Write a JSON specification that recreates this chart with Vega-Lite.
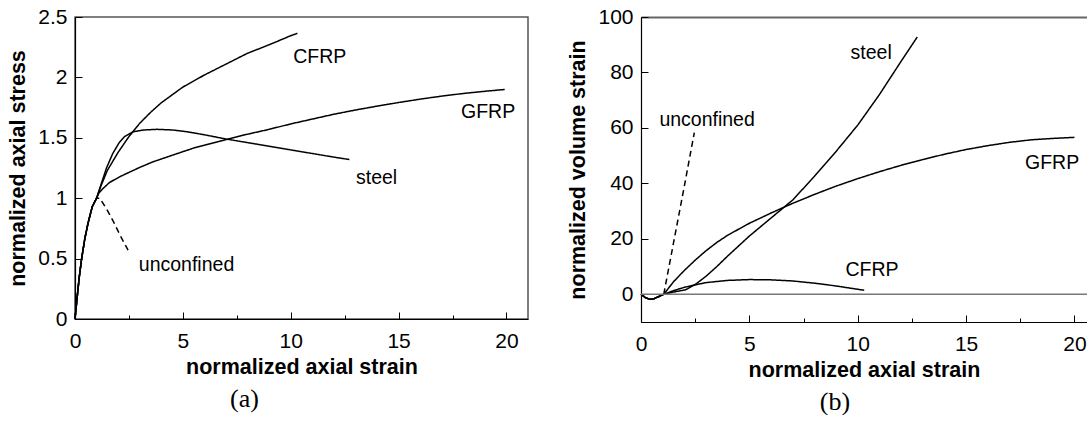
{
  "$schema": "https://vega.github.io/schema/vega-lite/v6.json",
  "padding": {"left": 7, "top": 5, "right": 0, "bottom": 0},
  "spacing": 38,
  "config": {
    "font": "Liberation Sans",
    "axis": {"labelFont": "Liberation Sans", "labelFontSize": 21, "labelColor": "#000", "titleFont": "Liberation Sans", "titleFontSize": 21.5, "titleFontWeight": "bold", "titleColor": "#000", "domainColor": "#000", "domainWidth": 1.2, "tickColor": "#000", "tickWidth": 1, "grid": false, "labelFlush": false, "labelOverlap": false},
    "view": {"stroke": "#555", "strokeWidth": 1.5}
  },
  "datasets": {
    "a": [
      {"material": "unconfined", "strain": 0, "stress": 0}, {"material": "unconfined", "strain": 0.1, "stress": 0.18}, {"material": "unconfined", "strain": 0.2, "stress": 0.35}, {"material": "unconfined", "strain": 0.3, "stress": 0.49}, {"material": "unconfined", "strain": 0.45, "stress": 0.66}, {"material": "unconfined", "strain": 0.6, "stress": 0.79}, {"material": "unconfined", "strain": 0.8, "stress": 0.93}, {"material": "unconfined", "strain": 1.0, "stress": 1.0},
      {"material": "unconfined", "strain": 1.15, "stress": 1.0}, {"material": "unconfined", "strain": 1.5, "stress": 0.9}, {"material": "unconfined", "strain": 1.8, "stress": 0.8}, {"material": "unconfined", "strain": 2.1, "stress": 0.69}, {"material": "unconfined", "strain": 2.46, "stress": 0.57},
      {"material": "steel", "strain": 0, "stress": 0}, {"material": "steel", "strain": 0.1, "stress": 0.18}, {"material": "steel", "strain": 0.2, "stress": 0.35}, {"material": "steel", "strain": 0.3, "stress": 0.49}, {"material": "steel", "strain": 0.45, "stress": 0.66}, {"material": "steel", "strain": 0.6, "stress": 0.79}, {"material": "steel", "strain": 0.8, "stress": 0.93}, {"material": "steel", "strain": 1.0, "stress": 1.0},
      {"material": "steel", "strain": 1.2, "stress": 1.11}, {"material": "steel", "strain": 1.46, "stress": 1.25}, {"material": "steel", "strain": 1.75, "stress": 1.37}, {"material": "steel", "strain": 2.05, "stress": 1.46}, {"material": "steel", "strain": 2.3, "stress": 1.51}, {"material": "steel", "strain": 2.7, "stress": 1.55}, {"material": "steel", "strain": 3.2, "stress": 1.565}, {"material": "steel", "strain": 3.8, "stress": 1.57}, {"material": "steel", "strain": 4.5, "stress": 1.565}, {"material": "steel", "strain": 5.2, "stress": 1.55}, {"material": "steel", "strain": 6, "stress": 1.525}, {"material": "steel", "strain": 7, "stress": 1.49}, {"material": "steel", "strain": 8, "stress": 1.46}, {"material": "steel", "strain": 9, "stress": 1.43}, {"material": "steel", "strain": 10, "stress": 1.4}, {"material": "steel", "strain": 11, "stress": 1.37}, {"material": "steel", "strain": 12, "stress": 1.34}, {"material": "steel", "strain": 12.72, "stress": 1.32},
      {"material": "CFRP", "strain": 0, "stress": 0}, {"material": "CFRP", "strain": 0.1, "stress": 0.18}, {"material": "CFRP", "strain": 0.2, "stress": 0.35}, {"material": "CFRP", "strain": 0.3, "stress": 0.49}, {"material": "CFRP", "strain": 0.45, "stress": 0.66}, {"material": "CFRP", "strain": 0.6, "stress": 0.79}, {"material": "CFRP", "strain": 0.8, "stress": 0.93}, {"material": "CFRP", "strain": 1.0, "stress": 1.0},
      {"material": "CFRP", "strain": 1.2, "stress": 1.1}, {"material": "CFRP", "strain": 1.5, "stress": 1.23}, {"material": "CFRP", "strain": 2, "stress": 1.38}, {"material": "CFRP", "strain": 2.5, "stress": 1.51}, {"material": "CFRP", "strain": 3, "stress": 1.62}, {"material": "CFRP", "strain": 3.5, "stress": 1.71}, {"material": "CFRP", "strain": 4, "stress": 1.79}, {"material": "CFRP", "strain": 5, "stress": 1.92}, {"material": "CFRP", "strain": 6, "stress": 2.02}, {"material": "CFRP", "strain": 7, "stress": 2.11}, {"material": "CFRP", "strain": 8, "stress": 2.2}, {"material": "CFRP", "strain": 9, "stress": 2.27}, {"material": "CFRP", "strain": 10, "stress": 2.345}, {"material": "CFRP", "strain": 10.31, "stress": 2.365},
      {"material": "GFRP", "strain": 0, "stress": 0}, {"material": "GFRP", "strain": 0.1, "stress": 0.18}, {"material": "GFRP", "strain": 0.2, "stress": 0.35}, {"material": "GFRP", "strain": 0.3, "stress": 0.49}, {"material": "GFRP", "strain": 0.45, "stress": 0.66}, {"material": "GFRP", "strain": 0.6, "stress": 0.79}, {"material": "GFRP", "strain": 0.8, "stress": 0.93}, {"material": "GFRP", "strain": 1.0, "stress": 1.0},
      {"material": "GFRP", "strain": 1.1, "stress": 1.04}, {"material": "GFRP", "strain": 1.3, "stress": 1.08}, {"material": "GFRP", "strain": 1.6, "stress": 1.13}, {"material": "GFRP", "strain": 2.1, "stress": 1.18}, {"material": "GFRP", "strain": 3, "stress": 1.255}, {"material": "GFRP", "strain": 3.6, "stress": 1.3}, {"material": "GFRP", "strain": 4.5, "stress": 1.355}, {"material": "GFRP", "strain": 5.5, "stress": 1.415}, {"material": "GFRP", "strain": 7, "stress": 1.485}, {"material": "GFRP", "strain": 8, "stress": 1.53}, {"material": "GFRP", "strain": 9, "stress": 1.57}, {"material": "GFRP", "strain": 10, "stress": 1.615}, {"material": "GFRP", "strain": 11, "stress": 1.655}, {"material": "GFRP", "strain": 12, "stress": 1.695}, {"material": "GFRP", "strain": 13, "stress": 1.73}, {"material": "GFRP", "strain": 14, "stress": 1.762}, {"material": "GFRP", "strain": 15, "stress": 1.792}, {"material": "GFRP", "strain": 16, "stress": 1.82}, {"material": "GFRP", "strain": 17, "stress": 1.845}, {"material": "GFRP", "strain": 18, "stress": 1.867}, {"material": "GFRP", "strain": 19, "stress": 1.885}, {"material": "GFRP", "strain": 19.92, "stress": 1.9}
    ],
    "la": [
      {"label": "CFRP", "strain": 11.35, "stress": 2.165},
      {"label": "GFRP", "strain": 19.15, "stress": 1.71},
      {"label": "steel", "strain": 13.98, "stress": 1.17},
      {"label": "unconfined", "strain": 5.17, "stress": 0.445}
    ],
    "b": [
      {"material": "unconfined", "strain": 1.05, "volume": 0}, {"material": "unconfined", "strain": 1.5, "volume": 18.5}, {"material": "unconfined", "strain": 2, "volume": 39}, {"material": "unconfined", "strain": 2.46, "volume": 58.3},
      {"material": "steel", "strain": 0, "volume": 0}, {"material": "steel", "strain": 0.2, "volume": -1.2}, {"material": "steel", "strain": 0.4, "volume": -1.8}, {"material": "steel", "strain": 0.6, "volume": -1.6}, {"material": "steel", "strain": 0.8, "volume": -0.9}, {"material": "steel", "strain": 1.05, "volume": 0},
      {"material": "steel", "strain": 1.5, "volume": 0.8}, {"material": "steel", "strain": 2.05, "volume": 1.6}, {"material": "steel", "strain": 2.5, "volume": 3.5}, {"material": "steel", "strain": 3, "volume": 6.5}, {"material": "steel", "strain": 3.5, "volume": 10}, {"material": "steel", "strain": 4, "volume": 13.8}, {"material": "steel", "strain": 5, "volume": 21}, {"material": "steel", "strain": 6, "volume": 27.5}, {"material": "steel", "strain": 7, "volume": 34}, {"material": "steel", "strain": 8, "volume": 42.5}, {"material": "steel", "strain": 9, "volume": 51.5}, {"material": "steel", "strain": 10, "volume": 61}, {"material": "steel", "strain": 11, "volume": 72}, {"material": "steel", "strain": 12, "volume": 84}, {"material": "steel", "strain": 12.75, "volume": 92.8},
      {"material": "GFRP", "strain": 0, "volume": 0}, {"material": "GFRP", "strain": 0.2, "volume": -1.2}, {"material": "GFRP", "strain": 0.4, "volume": -1.8}, {"material": "GFRP", "strain": 0.6, "volume": -1.6}, {"material": "GFRP", "strain": 0.8, "volume": -0.9}, {"material": "GFRP", "strain": 1.05, "volume": 0},
      {"material": "GFRP", "strain": 1.5, "volume": 4.5}, {"material": "GFRP", "strain": 2, "volume": 8.6}, {"material": "GFRP", "strain": 2.5, "volume": 12.3}, {"material": "GFRP", "strain": 3, "volume": 15.7}, {"material": "GFRP", "strain": 3.5, "volume": 18.7}, {"material": "GFRP", "strain": 4, "volume": 21.3}, {"material": "GFRP", "strain": 5, "volume": 25.6}, {"material": "GFRP", "strain": 6, "volume": 29.3}, {"material": "GFRP", "strain": 7, "volume": 32.8}, {"material": "GFRP", "strain": 8, "volume": 36}, {"material": "GFRP", "strain": 9, "volume": 39}, {"material": "GFRP", "strain": 10, "volume": 41.7}, {"material": "GFRP", "strain": 11, "volume": 44.2}, {"material": "GFRP", "strain": 12, "volume": 46.5}, {"material": "GFRP", "strain": 13, "volume": 48.6}, {"material": "GFRP", "strain": 14, "volume": 50.5}, {"material": "GFRP", "strain": 15, "volume": 52.2}, {"material": "GFRP", "strain": 16, "volume": 53.6}, {"material": "GFRP", "strain": 17, "volume": 54.8}, {"material": "GFRP", "strain": 18, "volume": 55.7}, {"material": "GFRP", "strain": 19, "volume": 56.2}, {"material": "GFRP", "strain": 20, "volume": 56.6},
      {"material": "CFRP", "strain": 0, "volume": 0}, {"material": "CFRP", "strain": 0.2, "volume": -1.2}, {"material": "CFRP", "strain": 0.4, "volume": -1.8}, {"material": "CFRP", "strain": 0.6, "volume": -1.6}, {"material": "CFRP", "strain": 0.8, "volume": -0.9}, {"material": "CFRP", "strain": 1.05, "volume": 0},
      {"material": "CFRP", "strain": 1.5, "volume": 1.3}, {"material": "CFRP", "strain": 2, "volume": 2.5}, {"material": "CFRP", "strain": 2.5, "volume": 3.4}, {"material": "CFRP", "strain": 3, "volume": 4.2}, {"material": "CFRP", "strain": 4, "volume": 5.0}, {"material": "CFRP", "strain": 5, "volume": 5.3}, {"material": "CFRP", "strain": 6, "volume": 5.2}, {"material": "CFRP", "strain": 7, "volume": 4.8}, {"material": "CFRP", "strain": 8, "volume": 4.0}, {"material": "CFRP", "strain": 9, "volume": 3.0}, {"material": "CFRP", "strain": 10, "volume": 1.8}, {"material": "CFRP", "strain": 10.3, "volume": 1.45}
    ],
    "lb": [
      {"label": "steel", "strain": 10.62, "volume": 87.1},
      {"label": "GFRP", "strain": 18.97, "volume": 47.5},
      {"label": "CFRP", "strain": 10.66, "volume": 8.9},
      {"label": "unconfined", "strain": 3.05, "volume": 63}
    ],
    "zero": [{"volume": 0}]
  },
  "hconcat": [
    {
      "width": 453,
      "height": 302,
      "title": {"text": "(a)", "orient": "bottom", "font": "Liberation Serif", "fontSize": 26, "fontWeight": "normal", "color": "#000", "frame": "group", "anchor": "middle", "dx": -57, "offset": 8},
      "layer": [
        {
          "data": {"name": "a"},
          "mark": {"type": "line", "color": "#000", "strokeWidth": 1.5},
          "encoding": {
            "x": {"field": "strain", "type": "quantitative", "scale": {"domain": [0, 21], "nice": false},
                  "axis": {"title": "normalized axial strain", "values": [0, 2.5, 5, 7.5, 10, 12.5, 15, 17.5, 20], "labelExpr": "datum.value % 5 === 0 ? format(datum.value, 'd') : ''", "tickSize": {"condition": {"test": "datum.value % 5 === 0", "value": -7}, "value": -4}, "labelPadding": 18, "titlePadding": 2}},
            "y": {"field": "stress", "type": "quantitative", "scale": {"domain": [0, 2.5], "nice": false},
                  "axis": {"title": "normalized axial stress", "values": [0, 0.25, 0.5, 0.75, 1, 1.25, 1.5, 1.75, 2, 2.25, 2.5], "labelExpr": "datum.value % 0.5 === 0 ? format(datum.value, '~g') : ''", "tickSize": {"condition": {"test": "datum.value % 0.5 === 0", "value": -7}, "value": -4}, "labelPadding": 15, "titlePadding": 8}},
            "strokeDash": {"field": "material", "type": "nominal", "scale": {"domain": ["steel", "CFRP", "GFRP", "unconfined"], "range": [[1, 0], [1, 0], [1, 0], [6, 4]]}, "legend": null}
          }
        },
        {
          "data": {"name": "la"},
          "mark": {"type": "text", "font": "Liberation Sans", "fontSize": 19.5, "color": "#000"},
          "encoding": {
            "x": {"field": "strain", "type": "quantitative"},
            "y": {"field": "stress", "type": "quantitative"},
            "text": {"field": "label"}
          }
        }
      ]
    },
    {
      "width": 446,
      "height": 305,
      "view": {"stroke": null},
      "title": {"text": "(b)", "orient": "bottom", "font": "Liberation Serif", "fontSize": 26, "fontWeight": "normal", "color": "#000", "frame": "group", "anchor": "middle", "dx": -29, "offset": 8},
      "layer": [
        {
          "data": {"name": "b"},
          "mark": {"type": "line", "color": "#000", "strokeWidth": 1.5},
          "encoding": {
            "x": {"field": "strain", "type": "quantitative", "scale": {"domain": [0, 20.58], "nice": false},
                  "axis": {"title": "normalized axial strain", "values": [0, 2.5, 5, 7.5, 10, 12.5, 15, 17.5, 20], "labelExpr": "datum.value % 5 === 0 ? format(datum.value, 'd') : ''", "tickSize": {"condition": {"test": "datum.value % 5 === 0", "value": -7}, "value": -4}, "labelPadding": 18, "titlePadding": 2}},
            "y": {"field": "volume", "type": "quantitative", "scale": {"domain": [-10, 100], "nice": false},
                  "axis": {"title": "normalized volume strain", "values": [0, 10, 20, 30, 40, 50, 60, 70, 80, 90, 100], "labelExpr": "(datum.value / 20) === floor(datum.value / 20) ? datum.value + '' : ''", "tickSize": {"condition": {"test": "(datum.value / 20) === floor(datum.value / 20)", "value": -7}, "value": -4}, "labelPadding": 15, "titlePadding": 8}},
            "strokeDash": {"field": "material", "type": "nominal", "scale": {"domain": ["steel", "CFRP", "GFRP", "unconfined"], "range": [[1, 0], [1, 0], [1, 0], [6, 4]]}, "legend": null}
          }
        },
        {
          "data": {"name": "zero"},
          "mark": {"type": "rule", "color": "#777", "strokeWidth": 1.5},
          "encoding": {"y": {"field": "volume", "type": "quantitative"}}
        },
        {
          "data": {"name": "lb"},
          "mark": {"type": "text", "font": "Liberation Sans", "fontSize": 19.5, "color": "#000"},
          "encoding": {
            "x": {"field": "strain", "type": "quantitative", "axis": {"orient": "top", "labels": false, "ticks": false, "title": null, "domainColor": "#666", "domainWidth": 1.8}},
            "y": {"field": "volume", "type": "quantitative"},
            "text": {"field": "label"}
          }
        }
      ],
      "resolve": {"axis": {"x": "independent"}}
    }
  ]
}
